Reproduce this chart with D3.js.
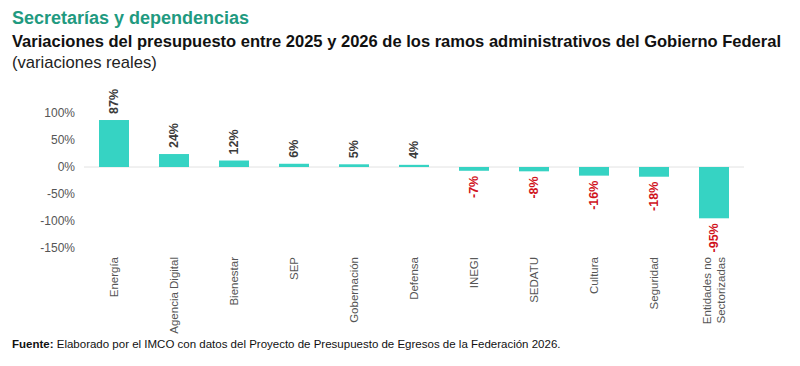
<!DOCTYPE html>
<html lang="es">
<head>
<meta charset="utf-8">
<script src="https://d3js.org/d3.v7.min.js"></script>
<style>
  body { margin: 0; background: #fff; font-family: "Liberation Sans", Arial, sans-serif; }
</style>
</head>
<body>
<script>
// categorias y variaciones reales (%)
var categories = ["Energía", "Agencia Digital", "Bienestar", "SEP", "Gobernación", "Defensa",
                  "INEGI", "SEDATU", "Cultura", "Seguridad", "Entidades no|Sectorizadas"];
var values = [87, 24, 12, 6, 5, 4, -7, -8, -16, -18, -95];
var yTicks = [100, 50, 0, -50, -100, -150];

const W = 800, H = 366;
const svg = d3.select("body").append("svg")
  .attr("width", W).attr("height", H);

// titulos
svg.append("text").attr("x", 12).attr("y", 24)
  .attr("font-size", 18).attr("font-weight", "bold").attr("fill", "#1f9a80")
  .text("Secretarías y dependencias");
svg.append("text").attr("x", 12).attr("y", 47)
  .attr("font-size", 16.55).attr("font-weight", "bold").attr("fill", "#111")
  .text("Variaciones del presupuesto entre 2025 y 2026 de los ramos administrativos del Gobierno Federal");
svg.append("text").attr("x", 12).attr("y", 68)
  .attr("font-size", 16.6).attr("fill", "#222")
  .text("(variaciones reales)");

// escalas
var x = d3.scaleBand().domain(categories).range([84, 744])
  .paddingInner(0.5).paddingOuter(0.25);
var y = d3.scaleLinear().domain([-150, 100]).range([248, 113]);

// eje y
svg.append("g").selectAll("text")
  .data(yTicks).enter().append("text")
  .attr("x", 75).attr("y", d => y(d)).attr("dy", "0.35em")
  .attr("text-anchor", "end").attr("font-size", 12).attr("fill", "#555")
  .text(d => d + "%");

// linea del cero
svg.append("line")
  .attr("x1", 84).attr("x2", 744).attr("y1", y(0)).attr("y2", y(0))
  .attr("stroke", "#e2e2e2").attr("stroke-width", 1);

// barras
svg.append("g").selectAll("rect")
  .data(values).enter().append("rect")
  .attr("x", (d, i) => x(categories[i]))
  .attr("width", x.bandwidth())
  .attr("y", d => y(Math.max(0, d)))
  .attr("height", d => Math.abs(y(d) - y(0)))
  .attr("fill", "#36d3c3");

// etiquetas de valor
svg.append("g").selectAll("text")
  .data(values).enter().append("text")
  .attr("transform", (d, i) => {
    var cx = x(categories[i]) + x.bandwidth() / 2 + 4;
    var cy = d >= 0 ? y(d) - 6 : y(d) + 5;
    return "translate(" + cx + "," + cy + ") rotate(-90)";
  })
  .attr("text-anchor", d => d >= 0 ? "start" : "end")
  .attr("font-size", 12.5).attr("font-weight", "bold")
  .attr("fill", d => d >= 0 ? "#3a3a3a" : "#d0121b")
  .text(d => d + "%");

// etiquetas de categoria
var catG = svg.append("g").selectAll("text")
  .data(categories).enter().append("text")
  .attr("transform", d => {
    var lines = d.split("|").length;
    var cx = x(d) + x.bandwidth() / 2 + 4 - (lines - 1) * 7;
    return "translate(" + cx + ",257) rotate(-90)";
  })
  .attr("text-anchor", "end").attr("font-size", 11.5).attr("fill", "#555");
catG.each(function(d) {
  var t = d3.select(this);
  d.split("|").forEach((s, j) => {
    t.append("tspan").attr("x", 0).attr("dy", j === 0 ? 0 : 14).text(s);
  });
});

// fuente
var f = svg.append("text").attr("x", 12).attr("y", 348)
  .attr("font-size", 11.5).attr("fill", "#111");
f.append("tspan").attr("font-weight", "bold").text("Fuente:");
f.append("tspan").text(" Elaborado por el IMCO con datos del Proyecto de Presupuesto de Egresos de la Federación 2026.");
</script>
</body>
</html>
